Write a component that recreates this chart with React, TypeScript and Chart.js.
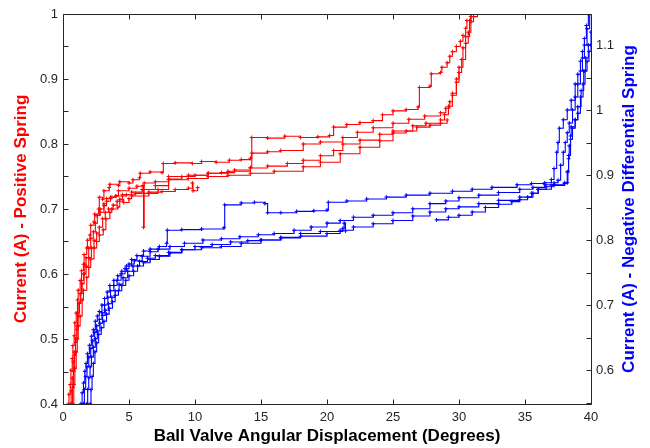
import { useEffect, useRef } from 'react';
import { Chart, registerables } from 'chart.js';
Chart.register(...registerables);

// ---------- data ----------
const xTicks = [0, 5, 10, 15, 20, 25, 30, 35, 40];
const leftTicks = [0.4, 0.5, 0.6, 0.7, 0.8, 0.9, 1.0];
const rightTicks = [0.6, 0.7, 0.8, 0.9, 1.0, 1.1];
const xTitle = 'Ball Valve Angular Displacement (Degrees)';
const leftTitle = 'Current (A) - Positive Spring';
const rightTitle = 'Current (A) - Negative Differential Spring';

// Positive spring runs (left axis) [degrees, amps]
const redRun1 = [[0.40,0.400],[0.45,0.415],[0.55,0.43],[0.60,0.452],[0.70,0.47],[0.75,0.49],[0.85,0.505],[0.90,0.525],[1.00,0.54],[1.10,0.56],[1.15,0.575],[1.30,0.59],[1.40,0.605],[1.55,0.615],[1.60,0.63],[1.80,0.64],[1.85,0.652],[2.05,0.66],[2.10,0.675],[2.35,0.68],[2.40,0.692],[2.70,0.70],[2.75,0.718],[3.00,0.715],[3.10,0.728],[3.50,0.733],[3.55,0.738],[4.20,0.736],[4.30,0.742],[5.00,0.74],[5.30,0.745],[5.80,0.748],[5.85,0.755],[6.60,0.757],[7.50,0.756],[7.60,0.770],[8.50,0.771],[9.80,0.770],[10.5,0.773],[11.6,0.772],[12.6,0.775],[13.5,0.776],[14.2,0.778],[14.3,0.810],[15.5,0.809],[16.8,0.812],[18.0,0.810],[19.3,0.811],[20.2,0.813],[20.5,0.826],[21.5,0.830],[22.5,0.833],[23.5,0.836],[24.2,0.845],[25.0,0.851],[26.0,0.853],[26.9,0.857],[27.0,0.887],[27.8,0.889],[27.9,0.908],[28.6,0.910],[28.7,0.918],[29.1,0.925],[29.3,0.935],[29.5,0.942],[29.8,0.950],[30.1,0.958],[30.3,0.967],[30.5,0.978],[30.6,0.990],[30.9,0.996],[31.4,1.0]];
const redRun2 = [[0.55,0.400],[0.62,0.42],[0.70,0.44],[0.78,0.465],[0.85,0.48],[0.95,0.50],[1.05,0.52],[1.10,0.54],[1.25,0.555],[1.30,0.57],[1.40,0.59],[1.55,0.60],[1.65,0.615],[1.75,0.625],[1.95,0.64],[2.10,0.655],[2.30,0.665],[2.45,0.678],[2.60,0.69],[2.80,0.70],[3.10,0.708],[3.30,0.716],[3.70,0.718],[4.00,0.72],[4.20,0.728],[5.00,0.732],[5.60,0.735],[6.05,0.736],[6.10,0.672],[6.15,0.74],[7.00,0.742],[8.00,0.746],[9.00,0.75],[10.0,0.752],[11.0,0.755],[12.0,0.756],[13.0,0.76],[14.2,0.764],[14.3,0.786],[15.5,0.788],[16.5,0.79],[18.2,0.80],[19.5,0.803],[21.2,0.81],[22.3,0.818],[23.5,0.825],[25.0,0.832],[26.2,0.838],[27.4,0.843],[28.6,0.848],[29.0,0.855],[29.3,0.865],[29.5,0.878],[29.8,0.895],[30.0,0.91],[30.2,0.93],[30.5,0.955],[30.7,0.972],[30.9,0.988],[31.1,1.0]];
const redRun3 = [[0.65,0.400],[0.72,0.425],[0.80,0.45],[0.88,0.475],[0.95,0.495],[1.05,0.515],[1.15,0.535],[1.20,0.555],[1.35,0.57],[1.45,0.585],[1.60,0.60],[1.75,0.612],[1.95,0.625],[2.15,0.64],[2.35,0.652],[2.55,0.663],[2.75,0.672],[3.00,0.685],[3.20,0.695],[3.45,0.70],[3.80,0.706],[4.10,0.712],[4.50,0.722],[5.20,0.726],[6.00,0.73],[7.00,0.736],[8.00,0.75],[9.50,0.752],[11.0,0.755],[12.5,0.758],[14.2,0.763],[15.5,0.766],[17.0,0.77],[18.2,0.775],[19.5,0.782],[20.5,0.79],[21.2,0.80],[22.5,0.806],[24.0,0.815],[25.0,0.82],[26.5,0.828],[27.5,0.832],[28.6,0.837],[28.9,0.845],[29.2,0.858],[29.5,0.875],[29.8,0.90],[30.0,0.918],[30.3,0.948],[30.5,0.965],[30.8,0.99],[30.9,1.0]];
const redRun4 = [[0.75,0.400],[0.82,0.43],[0.90,0.455],[1.00,0.48],[1.08,0.50],[1.15,0.52],[1.30,0.535],[1.45,0.56],[1.55,0.575],[1.80,0.595],[1.95,0.61],[2.10,0.623],[2.35,0.64],[2.55,0.65],[2.75,0.66],[3.05,0.668],[3.25,0.685],[3.55,0.695],[3.70,0.70],[4.15,0.703],[4.30,0.715],[4.60,0.71],[5.00,0.716],[5.20,0.72],[6.50,0.724],[7.20,0.73],[8.00,0.745],[9.50,0.747],[11.0,0.75],[12.5,0.752],[14.2,0.755],[16.0,0.758],[18.2,0.765],[19.5,0.772],[21.0,0.785],[22.5,0.795],[24.0,0.805],[25.0,0.817],[26.0,0.82],[26.8,0.826],[27.8,0.829],[28.6,0.832],[29.1,0.837]];
const redRun5 = [[2.5,0.69],[2.8,0.695],[3.1,0.705],[3.3,0.712],[3.6,0.718],[4.0,0.72],[4.8,0.722],[5.5,0.724],[6.5,0.726],[7.5,0.727],[8.5,0.73],[9.5,0.732],[9.8,0.74],[9.85,0.728],[10.2,0.733]];

// Negative differential spring runs (right axis) [degrees, amps]
const blueRun1 = [[1.35,0.548],[1.45,0.565],[1.55,0.58],[1.65,0.598],[1.75,0.61],[1.85,0.625],[2.00,0.638],[2.15,0.652],[2.30,0.662],[2.45,0.675],[2.60,0.683],[2.75,0.69],[2.95,0.70],[3.15,0.71],[3.35,0.72],[3.55,0.73],[3.85,0.738],[4.15,0.745],[4.45,0.752],[4.80,0.76],[5.20,0.77],[5.60,0.776],[6.10,0.783],[6.60,0.786],[7.30,0.79],[7.85,0.795],[7.90,0.815],[9.00,0.816],[10.5,0.817],[12.2,0.819],[12.25,0.854],[13.5,0.857],[14.5,0.858],[15.3,0.856],[15.5,0.842],[16.5,0.842],[17.7,0.844],[19.0,0.845],[20.0,0.846],[20.1,0.858],[21.5,0.86],[23.0,0.863],[24.5,0.866],[26.0,0.869],[27.8,0.872],[29.5,0.875],[31.0,0.878],[32.5,0.881],[34.4,0.885],[35.5,0.887],[36.5,0.888],[37.0,0.893],[37.2,0.91],[37.4,0.935],[37.5,0.95],[37.6,0.972],[37.9,0.985],[38.2,1.0],[38.5,1.015],[38.8,1.04],[39.0,1.055],[39.2,1.075],[39.35,1.09],[39.5,1.11],[39.65,1.13],[39.8,1.148]];
const blueRun2 = [[1.55,0.548],[1.62,0.57],[1.72,0.59],[1.82,0.605],[1.95,0.62],[2.10,0.633],[2.25,0.645],[2.40,0.658],[2.55,0.668],[2.75,0.678],[2.95,0.688],[3.15,0.70],[3.40,0.712],[3.60,0.722],[3.85,0.73],[4.10,0.738],[4.40,0.748],[4.70,0.756],[5.00,0.763],[5.40,0.768],[6.00,0.775],[6.60,0.782],[7.20,0.786],[8.10,0.79],[9.20,0.795],[10.6,0.80],[12.0,0.802],[13.4,0.805],[14.8,0.808],[16.0,0.81],[17.5,0.815],[18.8,0.82],[20.0,0.826],[21.0,0.83],[22.0,0.835],[23.5,0.838],[25.0,0.842],[26.5,0.848],[27.8,0.856],[29.0,0.86],[30.0,0.865],[31.5,0.869],[33.0,0.873],[34.6,0.878],[35.6,0.881],[36.5,0.885],[37.2,0.888],[37.5,0.892],[37.7,0.915],[37.9,0.935],[38.05,0.95],[38.2,0.965],[38.35,0.98],[38.6,1.0],[38.8,1.02],[39.0,1.04],[39.2,1.06],[39.35,1.08],[39.5,1.10],[39.7,1.125],[39.9,1.148]];
const blueRun3 = [[1.80,0.548],[1.87,0.57],[1.95,0.588],[2.05,0.605],[2.15,0.62],[2.30,0.635],[2.45,0.648],[2.60,0.66],[2.80,0.672],[3.00,0.684],[3.20,0.692],[3.45,0.702],[3.70,0.712],[3.95,0.722],[4.25,0.732],[4.55,0.742],[4.90,0.752],[5.30,0.76],[5.80,0.767],[6.40,0.772],[7.00,0.776],[8.00,0.781],[9.00,0.785],[10.5,0.788],[12.0,0.79],[13.5,0.795],[15.0,0.80],[16.5,0.803],[18.0,0.806],[20.0,0.81],[21.0,0.815],[22.0,0.82],[23.5,0.825],[25.0,0.83],[26.5,0.837],[27.8,0.843],[29.0,0.848],[30.0,0.851],[31.5,0.856],[33.0,0.861],[34.6,0.866],[35.5,0.872],[36.0,0.878],[37.0,0.884],[38.0,0.888],[38.2,0.905],[38.3,0.93],[38.45,0.955],[38.6,0.972],[38.8,0.985],[39.0,1.005],[39.25,1.03],[39.45,1.06],[39.6,1.08],[39.8,1.10],[40.0,1.12]];
const blueRun4 = [[2.05,0.548],[2.12,0.57],[2.20,0.59],[2.30,0.61],[2.42,0.628],[2.55,0.642],[2.70,0.655],[2.90,0.665],[3.10,0.675],[3.30,0.686],[3.50,0.695],[3.75,0.705],[3.95,0.715],[4.20,0.722],[4.45,0.73],[4.75,0.738],[5.00,0.745],[5.35,0.752],[5.65,0.76],[6.10,0.765],[6.60,0.77],[7.30,0.775],[8.10,0.78],[9.00,0.785],[10.0,0.79],[11.3,0.793],[12.7,0.797],[14.0,0.799],[15.0,0.80],[16.5,0.804],[18.0,0.81],[19.5,0.813],[21.2,0.818],[21.3,0.826],[21.4,0.814]];
const blueRun5 = [[28.3,0.831],[29.2,0.835],[30.0,0.838],[31.0,0.843],[32.0,0.85],[33.0,0.855],[34.0,0.859],[34.6,0.862],[35.2,0.866],[35.6,0.872],[36.0,0.878],[36.6,0.882],[37.2,0.885],[38.0,0.887],[38.2,0.888],[38.25,0.905],[38.3,0.925],[38.35,0.945],[38.45,0.96],[38.5,0.974],[38.8,0.985],[39.0,0.995],[39.2,1.02],[39.4,1.04],[39.55,1.06],[39.7,1.075],[39.85,1.09],[40.0,1.10]];

const redRuns = [redRun1, redRun2, redRun3, redRun4, redRun5];
const blueRuns = [blueRun1, blueRun2, blueRun3, blueRun4, blueRun5];

const RED = '#ff0000';
const BLUE = '#0000ff';
const AXIS = '#262626';
const FONT = '"Liberation Sans", Arial, Helvetica, sans-serif';

const toPts = (run: number[][]) => run.map(([x, y]) => ({ x, y }));
const fmt = (v: number) => String(Number(v.toFixed(2)));

const framePlugin = {
  id: 'matlabFrame',
  afterDraw(chart: any) {
    const { ctx, chartArea: a, scales } = chart;
    const L = Math.round(a.left) + 0.5;
    const R = Math.round(a.right) + 0.5;
    const T = Math.round(a.top) + 0.5;
    const B = Math.round(a.bottom) + 0.5;
    ctx.save();
    ctx.strokeStyle = AXIS;
    ctx.lineWidth = 1;
    ctx.beginPath();
    ctx.moveTo(L, T); ctx.lineTo(R, T); ctx.lineTo(R, B); ctx.lineTo(L, B); ctx.closePath();
    const tl = 5;
    for (const v of xTicks) {
      const px = Math.round(scales.x.getPixelForValue(v)) + 0.5;
      ctx.moveTo(px, B); ctx.lineTo(px, B - tl);
      ctx.moveTo(px, T); ctx.lineTo(px, T + tl);
    }
    for (let i = 0; i <= 12; i++) {
      const v = 0.4 + i * 0.05;
      const py = Math.round(scales.yL.getPixelForValue(v)) + 0.5;
      ctx.moveTo(L, py); ctx.lineTo(L + tl, py);
    }
    for (let i = 0; i <= 12; i++) {
      const v = 0.55 + i * 0.05;
      if (v < scales.yR.min || v > scales.yR.max) continue;
      const py = Math.round(scales.yR.getPixelForValue(v)) + 0.5;
      ctx.moveTo(R, py); ctx.lineTo(R - tl, py);
    }
    ctx.stroke();

    ctx.font = `bold 17px ${FONT}`;
    ctx.textAlign = 'center';
    ctx.textBaseline = 'middle';
    const cy = (a.top + a.bottom) / 2;
    ctx.fillStyle = '#000';
    ctx.fillText(xTitle, (a.left + a.right) / 2, 436);
    ctx.save();
    ctx.translate(21, cy);
    ctx.rotate(-Math.PI / 2);
    ctx.fillStyle = RED;
    ctx.fillText(leftTitle, 0, 0);
    ctx.restore();
    ctx.save();
    ctx.translate(629, cy);
    ctx.rotate(-Math.PI / 2);
    ctx.fillStyle = BLUE;
    ctx.fillText(rightTitle, 0, 0);
    ctx.restore();
    ctx.restore();
  },
};

export default function App() {
  const ref = useRef<HTMLCanvasElement>(null);
  useEffect(() => {
    document.body.style.margin = '0';
    const datasets: any[] = [];
    redRuns.forEach((run, i) => datasets.push({
      label: 'positive-' + i, data: toPts(run), yAxisID: 'yL', showLine: true,
      borderColor: RED, backgroundColor: RED, borderWidth: 1.1,
      pointStyle: 'cross', pointRadius: 2, pointBorderWidth: 1, pointBorderColor: RED,
      stepped: true, fill: false,
    }));
    blueRuns.forEach((run, i) => datasets.push({
      label: 'negative-' + i, data: toPts(run), yAxisID: 'yR', showLine: true,
      borderColor: BLUE, backgroundColor: BLUE, borderWidth: 1.1,
      pointStyle: 'cross', pointRadius: 2, pointBorderWidth: 1, pointBorderColor: BLUE,
      stepped: true, fill: false,
    }));
    const tickFont = { family: FONT, size: 13 };
    const chart = new Chart(ref.current!, {
      type: 'scatter',
      data: { datasets },
      options: {
        animation: false,
        responsive: false,
        layout: { padding: { top: 14, left: 0, right: 0, bottom: 0 } },
        plugins: { legend: { display: false }, tooltip: { enabled: false } },
        scales: {
          x: {
            type: 'linear', position: 'bottom', min: 0, max: 40,
            grid: { display: false, drawTicks: false }, border: { display: false },
            ticks: { font: tickFont, color: AXIS, padding: 6, callback: (v: any) => fmt(Number(v)) },
            afterBuildTicks: (s: any) => { s.ticks = xTicks.map((value) => ({ value })); },
            afterFit: (s: any) => { s.height = 44; },
          },
          yL: {
            type: 'linear', position: 'left', min: 0.4, max: 1,
            grid: { display: false, drawTicks: false }, border: { display: false },
            ticks: { font: tickFont, color: AXIS, padding: 5, callback: (v: any) => fmt(Number(v)) },
            afterBuildTicks: (s: any) => { s.ticks = leftTicks.map((value) => ({ value })); },
            afterFit: (s: any) => { s.width = 63; },
          },
          yR: {
            type: 'linear', position: 'right', min: 0.5477, max: 1.1477,
            grid: { display: false, drawTicks: false }, border: { display: false },
            ticks: { font: tickFont, color: AXIS, padding: 5, callback: (v: any) => fmt(Number(v)) },
            afterBuildTicks: (s: any) => { s.ticks = rightTicks.map((value) => ({ value })); },
            afterFit: (s: any) => { s.width = 59; },
          },
        },
      },
      plugins: [framePlugin],
    } as any);
    return () => chart.destroy();
  }, []);
  return <canvas ref={ref} width={650} height={448} style={{ display: 'block' }} />;
}
